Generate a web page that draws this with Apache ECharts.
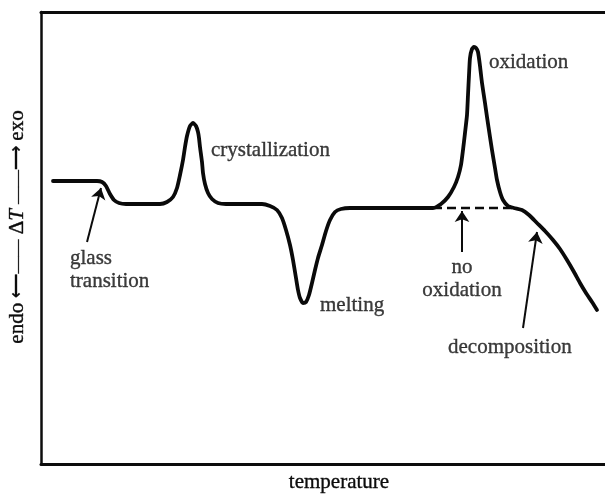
<!DOCTYPE html>
<html>
<head>
<meta charset="utf-8">
<script src="https://cdn.jsdelivr.net/npm/echarts@6/dist/echarts.min.js"></script>
<style>
  html, body { margin: 0; padding: 0; background: #fff; }
  #chart { width: 605px; height: 495px; }
</style>
</head>
<body>
<div id="chart"></div>
<script>
// Schematic DTA trace: temperature (arbitrary units) vs. ΔT (arbitrary units)
const temperature = [
  12, 56, 61, 65, 69, 73, 78, 85,                                   // baseline + glass transition step
  119, 126, 132, 136, 139, 142, 144, 146, 149, 152, 155, 157, 158,  // crystallization
  159, 161, 162, 164, 167, 171, 177, 185,
  221, 229, 236, 241, 245, 249, 252, 255, 257, 259, 262, 265, 268,  // melting
  271, 274, 277, 281, 285, 289, 294, 300, 309,
  392, 400, 407, 413, 417, 420, 422, 424, 426, 427, 428, 429, 431,  // oxidation
  433, 435, 437, 439, 441, 444, 446, 449, 451, 454, 456, 459, 462, 467, 473,
  481, 488, 496, 504, 512, 519, 526, 533, 539, 545, 551, 556        // decomposition
];
const deltaT = [
  283, 283, 282, 278, 270, 264, 261, 260,
  260, 262, 267, 276, 289, 304, 317, 328, 338, 341, 338, 332, 326,
  317, 302, 291, 280, 271, 265, 261, 260,
  260, 258, 254, 246, 234, 219, 204, 186, 174, 166, 161, 162, 169,
  181, 194, 206, 219, 233, 244, 252, 255, 256,
  256, 260, 267, 277, 287, 299, 314, 331, 349, 369, 389, 406, 415,
  417, 416, 412, 398, 381, 361, 347, 327, 314, 296, 284, 272, 264, 258, 256,
  254, 249, 241, 233, 224, 215, 204, 192, 181, 171, 162, 154
];

// Extrapolated baseline under the oxidation peak (no oxidation)
const baselineT = [392, 471];
const baselineDT = [256, 256];

// Annotation arrows: tail point and head point
const arrowNames = ['glass transition', 'no oxidation', 'decomposition'];
const arrowFrom = [[46, 222], [421, 212], [482, 136]];
const arrowTo = [[60, 276], [421, 253], [496, 232]];

// Annotation texts and their anchor points
const noteText = ['crystallization', 'oxidation', 'glass\ntransition', 'melting', 'no\noxidation', 'decomposition'];
const noteT = [170, 448, 29, 279, 421, 407];
const noteDT = [314, 402, 194.5, 159, 185, 117];
const noteCentered = [false, false, false, false, true, false];

const FONT = '"Liberation Serif", "Times New Roman", serif';
const INK = '#0c0c0c';
const FS = 21;
// a hairline outline gives the printed text a little more weight
const heavy = { textBorderColor: INK, textBorderWidth: 0.35 };

const chart = echarts.init(document.getElementById('chart'), null, { renderer: 'canvas' });

const curve = temperature.map((t, i) => [t, deltaT[i]]);
const baseline = baselineT.map((t, i) => [t, baselineDT[i]]);

chart.setOption({
  animation: false,
  backgroundColor: '#ffffff',
  grid: { left: 41, right: 0, top: 12, bottom: 31, outerBoundsMode: 'none', containLabel: false },
  xAxis: [
    {
      type: 'value', min: 0, max: 564, position: 'bottom',
      name: 'temperature', nameLocation: 'middle', nameGap: 8,
      nameTextStyle: Object.assign({ fontFamily: FONT, fontSize: FS, color: INK, padding: [0, 0, 0, 32] }, heavy),
      axisLine: { show: true, onZero: false, lineStyle: { color: INK, width: 3 } },
      axisTick: { show: false }, axisLabel: { show: false }, splitLine: { show: false }
    },
    {
      type: 'value', min: 0, max: 564, position: 'top',
      axisLine: { show: true, onZero: false, lineStyle: { color: INK, width: 3 } },
      axisTick: { show: false }, axisLabel: { show: false }, splitLine: { show: false }
    }
  ],
  yAxis: {
    type: 'value', min: 0, max: 452,
    name: 'endo {ar|⟵——} Δ{it|T} {ar|——⟶} exo',
    nameLocation: 'middle', nameRotate: 90, nameGap: 13,
    nameTextStyle: Object.assign({
      fontFamily: FONT, fontSize: FS, color: INK,
      padding: [0, 0, 0, 22],
      rich: {
        ar: Object.assign({ fontFamily: FONT, fontSize: 17, color: INK }, heavy),
        it: Object.assign({ fontFamily: FONT, fontSize: FS, color: INK, fontStyle: 'italic' }, heavy)
      }
    }, heavy),
    axisLine: { show: true, onZero: false, lineStyle: { color: INK, width: 2.5 } },
    axisTick: { show: false }, axisLabel: { show: false }, splitLine: { show: false }
  },
  series: [
    {
      name: 'ΔT', type: 'line', data: curve, smooth: 0.2,
      showSymbol: false, symbol: 'none',
      lineStyle: { color: '#0a0a0a', width: 3.8, cap: 'round', join: 'round' },
      z: 3
    },
    {
      name: 'baseline', type: 'line', data: baseline, showSymbol: false, symbol: 'none',
      lineStyle: { color: '#0a0a0a', width: 2.5, type: [9, 5] },
      z: 2
    },
    {
      name: 'arrows', type: 'lines', coordinateSystem: 'cartesian2d',
      symbol: ['none', 'arrow'], symbolSize: [0, 11],
      lineStyle: { color: INK, width: 2, opacity: 1 },
      data: arrowNames.map((n, i) => ({ name: n, coords: [arrowFrom[i], arrowTo[i]] })),
      z: 4
    },
    {
      name: 'notes', type: 'scatter', symbolSize: 0, silent: true,
      data: noteText.map((txt, i) => ({
        value: [noteT[i], noteDT[i]],
        label: Object.assign({
          show: true, formatter: txt,
          position: noteCentered[i] ? 'inside' : 'right', distance: 0,
          align: noteCentered[i] ? 'center' : 'left',
          fontFamily: FONT, fontSize: FS, color: INK, lineHeight: 23
        }, heavy)
      })),
      z: 5
    }
  ]
});
</script>
</body>
</html>
